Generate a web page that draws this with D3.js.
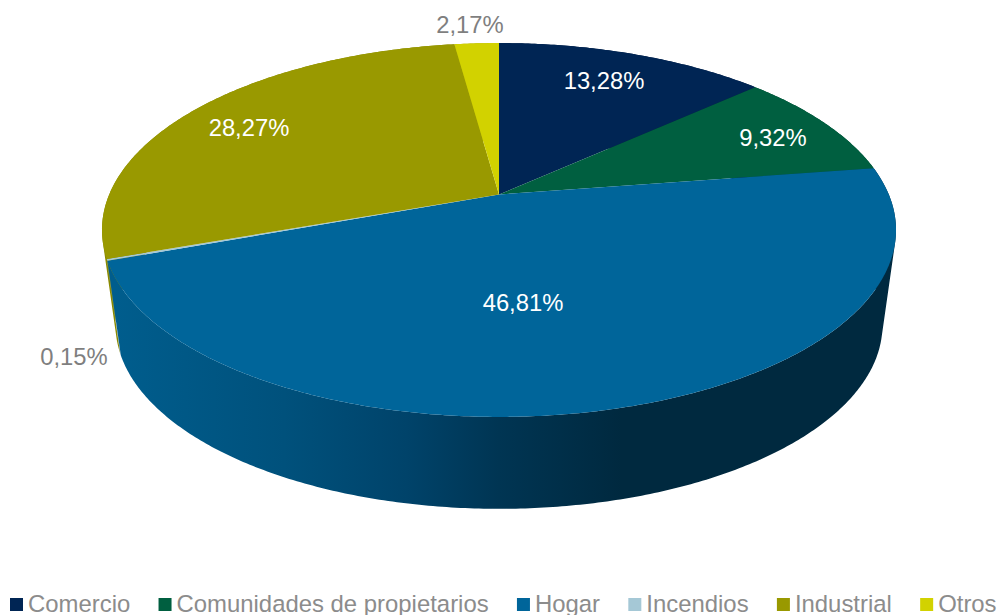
<!DOCTYPE html>
<html>
<head>
<meta charset="utf-8">
<script src="https://cdn.jsdelivr.net/npm/d3@7"></script>
<style>
html, body { margin: 0; padding: 0; background: #fff; overflow: hidden; }
svg { display: block; }
text { font-family: "Liberation Sans", Arial, sans-serif; }
</style>
</head>
<body>
<div id="chart"></div>
<script>
var categories = ["Comercio", "Comunidades de propietarios", "Hogar", "Incendios", "Industrial", "Otros"];
var shares = [13.28, 9.32, 46.81, 0.15, 28.27, 2.17];
var shareLabels = ["13,28%", "9,32%", "46,81%", "0,15%", "28,27%", "2,17%"];

var colors = ["#002554", "#005f40", "#00659a", "#a5c8d6", "#999900", "#d2d200"];
var wallColors = ["#001c40", "#004a32", "url(#hogarWall)", "#7f9ba6", "#8a8a00", "#a8a800"];
var labelColors = ["#fff", "#fff", "#fff", "#7f7f7f", "#fff", "#7f7f7f"];
// label centres, excel placed these by hand so they dont follow the slice centroid
var labelPos = [[604, 81], [773, 138], [523, 303], [74, 357], [249, 128], [470, 25]];

var width = 1000, height = 615;

var svg = d3.select("#chart").append("svg")
	.attr("width", width)
	.attr("height", height);

// side wall shading runs left to right, not along the rim
var grad = svg.append("defs").append("linearGradient")
	.attr("id", "hogarWall")
	.attr("gradientUnits", "userSpaceOnUse")
	.attr("x1", 115).attr("x2", 883).attr("y1", 0).attr("y2", 0);
grad.selectAll("stop")
	.data([[0, "#005d8d"], [0.22, "#00517c"], [0.38, "#00436a"], [0.5, "#003553"], [0.66, "#00293f"], [1, "#00293f"]])
	.enter().append("stop")
		.attr("offset", function(d) { return d[0]; })
		.attr("stop-color", function(d) { return d[1]; });

// perspective view of a flat disc: far edge shrinks, apex sits above the ellipse centre
var tilt = -0.1898;
var topDisc = {x: 499, y: 194.5, a: 389.8, b: 180.2};
var baseDisc = {x: 499, y: 290, a: 376.5, b: 177.3};

function project(disc, angle) {
	var u = Math.sin(angle), v = -Math.cos(angle), w = 1 + tilt * v;
	return [disc.x + disc.a * u / w, disc.y + disc.b * v / w];
}

function rim(disc, a0, a1) {
	var n = Math.max(2, Math.ceil((a1 - a0) / 0.01));
	return d3.range(n + 1).map(function(i) {
		return project(disc, a0 + (a1 - a0) * i / n);
	});
}

var line = d3.line();

// wall as many quads in one path, all wound the same way so the fold at the
// silhouette doesnt cancel out under the nonzero fill rule
function wallPath(a0, a1) {
	var t = rim(topDisc, a0, a1), b = rim(baseDisc, a0, a1), out = "";
	for (var i = 0; i < t.length - 1; i++) {
		var quad = [t[i], t[i + 1], b[i + 1], b[i]];
		if (d3.polygonArea(quad) < 0) quad.reverse();
		out += line(quad) + "Z";
	}
	return out;
}

function frontness(d) {
	return -Math.abs((d.startAngle + d.endAngle) / 2 - Math.PI);
}

var slices = d3.pie().sort(null)(shares);

// painters order, slice nearest the viewer goes last
svg.append("g").attr("class", "walls")
	.selectAll("path")
	.data(slices.slice().sort(function(a, b) { return frontness(a) - frontness(b); }))
	.enter().append("path")
		.attr("fill", function(d) { return wallColors[d.index]; })
		.attr("d", function(d) { return wallPath(d.startAngle, d.endAngle); });

svg.append("g").attr("class", "tops")
	.selectAll("path")
	.data(slices)
	.enter().append("path")
		.attr("fill", function(d) { return colors[d.index]; })
		.attr("d", function(d) {
			return line([[topDisc.x, topDisc.y]].concat(rim(topDisc, d.startAngle, d.endAngle))) + "Z";
		});

svg.append("g").attr("class", "labels")
	.selectAll("text")
	.data(slices)
	.enter().append("text")
		.attr("x", function(d) { return labelPos[d.index][0]; })
		.attr("y", function(d) { return labelPos[d.index][1]; })
		.attr("dy", "0.35em")
		.attr("text-anchor", "middle")
		.attr("font-size", 23.8)
		.attr("fill", function(d) { return labelColors[d.index]; })
		.text(function(d) { return shareLabels[d.index]; });

// legend, entries laid out from the measured text width
var legend = svg.append("g").attr("class", "legend");
var legendX = 10;
categories.forEach(function(name, i) {
	legend.append("rect")
		.attr("x", legendX).attr("y", 598)
		.attr("width", 13).attr("height", 13)
		.attr("fill", colors[i]);
	var t = legend.append("text")
		.attr("x", legendX + 18).attr("y", 612)
		.attr("font-size", 23.9)
		.attr("fill", "#8c8c8c")
		.text(name);
	legendX += 18 + t.node().getComputedTextLength() + 28.3;
});
</script>
</body>
</html>
